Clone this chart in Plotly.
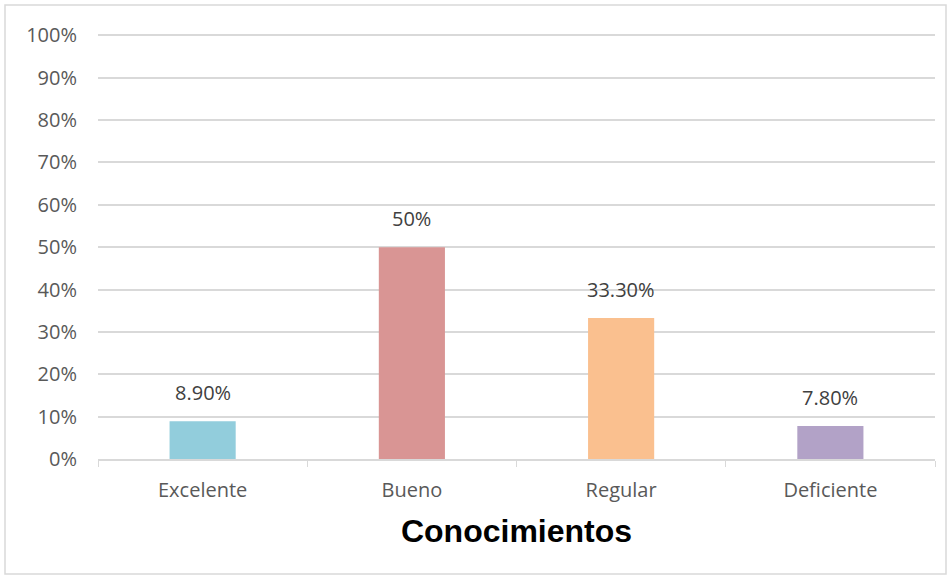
import plotly.graph_objects as go

categories = ["Excelente", "Bueno", "Regular", "Deficiente"]
values = [8.9, 50, 33.3, 7.8]
labels = ["8.90%", "50%", "33.30%", "7.80%"]
colors = ["#92cddc", "#d99594", "#fac08f", "#b2a2c7"]
y_ticks = [0, 10, 20, 30, 40, 50, 60, 70, 80, 90, 100]
y_tick_text = [f"{v}%" for v in y_ticks]

W, H = 951, 578
ml, mr, mt, mb = 98, 16, 34, 119
pw, ph = W - ml - mr, H - mt - mb

fig = go.Figure()
fig.add_trace(go.Bar(
    x=categories, y=values, marker=dict(color=colors, line=dict(width=0)),
    width=0.316, hoverinfo="skip",
))

for c, v, t in zip(categories, values, labels):
    fig.add_annotation(x=c, y=v, text=t, showarrow=False, yanchor="bottom",
                       yshift=13, font=dict(family="Open Sans", size=20, color="#404040"))

gx = lambda px: (px - ml) / pw
gy = lambda py: 1 - (py - mt) / ph
fig.add_shape(type="rect", xref="paper", yref="paper",
              x0=gx(5), x1=gx(946), y0=gy(574), y1=gy(5),
              line=dict(color="#d9d9d9", width=1.5), fillcolor="rgba(0,0,0,0)", layer="below")

fig.update_layout(
    width=W, height=H, margin=dict(l=ml, r=mr, t=mt, b=mb),
    paper_bgcolor="white", plot_bgcolor="white", showlegend=False,
    bargap=0.684,
    font=dict(family="Open Sans", size=20, color="#595959"),
    xaxis=dict(
        showgrid=False, showline=True, linecolor="#d9d9d9", linewidth=1.5,
        ticks="outside", tickson="boundaries", ticklen=6, tickcolor="#d9d9d9",
        tickfont=dict(family="Open Sans", size=20, color="#595959"),
        ticklabelstandoff=12,
        title=dict(text="<b>Conocimientos</b>", font=dict(family="Arial", size=32, color="black"),
                   standoff=18),
    ),
    yaxis=dict(
        range=[0, 100.3], tickvals=y_ticks, ticktext=y_tick_text,
        showgrid=True, gridcolor="#d9d9d9", gridwidth=1.5, zeroline=False,
        showline=False, ticks="", ticklabelstandoff=20,
        tickfont=dict(family="Open Sans", size=20, color="#595959"),
    ),
)

fig.write_html("out.html")
